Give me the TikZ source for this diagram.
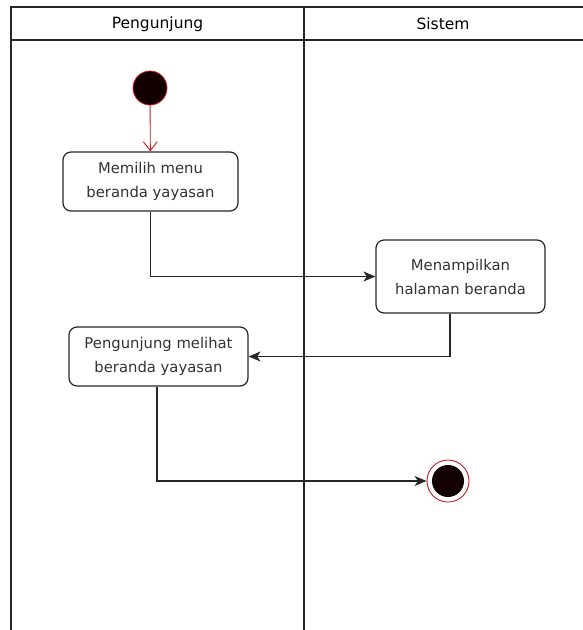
\documentclass[tikz,border=0pt]{standalone}
\usepackage{fontspec}
\setmainfont{DejaVu Sans}
\usetikzlibrary{arrows.meta}
\definecolor{startred}{RGB}{200,30,30}
\definecolor{dotfill}{RGB}{18,0,0}
\definecolor{txtgray}{RGB}{51,51,51}
\tikzset{
  lane/.style={line width=1.6pt, draw=black!85},
  header/.style={font=\fontsize{15.5}{18}\selectfont, text=black},
  actbox/.style={draw=black!85, line width=1.2pt, rounded corners=8pt, fill=white,
    align=center, text=txtgray, font=\fontsize{14.8}{24}\selectfont, inner sep=0pt},
  flow/.style={draw=black!85, line width=1.3pt, -{Stealth[length=12pt,width=10pt,inset=3.5pt]}},
  startflow/.style={draw=startred, line width=0.9pt, -{Straight Barb[length=9pt,width=14pt,line width=0.9pt]}},
  startdot/.style={circle, fill=dotfill, draw=startred, line width=0.8pt, minimum size=34pt, inner sep=0pt},
  endring/.style={circle, fill=white, draw=startred, line width=0.9pt, minimum size=42pt, inner sep=0pt},
  enddot/.style={circle, fill=dotfill, minimum size=32pt, inner sep=0pt}
}
\begin{document}
\begin{tikzpicture}[x=1pt,y=-1pt]
\useasboundingbox (0,0) rectangle (582,630);
\fill[white] (0,0) rectangle (582,630);
% swimlanes
\draw[lane] (11,631) -- (11,7) -- (583,7);
\draw[lane] (11,40) -- (583,40);
\draw[lane] (304,7) -- (304,631);
\node[header] (h1) at (157.5,24) {Pengunjung};
\node[header] (h2) at (443,24) {Sistem};
% nodes
\node[startdot] (start) at (150,88) {};
\node[actbox, minimum width=175pt, minimum height=59pt] (b1) at (150.5,181.5) {Memilih menu\\beranda yayasan};
\node[actbox, minimum width=169pt, minimum height=73pt] (b2) at (460.5,276.5) {Menampilkan\\halaman beranda};
\node[actbox, minimum width=179pt, minimum height=59pt] (b3) at (158.5,356.5) {Pengunjung melihat\\beranda yayasan};
\node[endring] (end) at (448,481) {};
\node[enddot] (enddot) at (448,481) {};
% connectors
\draw[startflow] (start) -- (b1);
\draw[flow] (b1.south) |- (b2.west);
\draw[flow] (b2.south -| 450,0) |- (b3.east);
\draw[flow] (b3.south -| 157,0) |- (end.west);
\end{tikzpicture}
\end{document}
